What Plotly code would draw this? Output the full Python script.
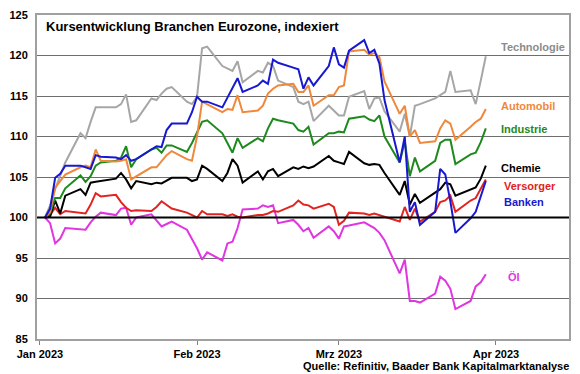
import pandas as pd
import plotly.graph_objects as go

# ---------------- data ----------------
dates = (
    ["2023-01-%02d" % d for d in [2, 3, 4, 5, 6, 9, 10, 11, 12, 13, 16, 17, 18, 19, 20, 23, 24, 25, 26, 27, 30, 31]]
    + ["2023-02-%02d" % d for d in [1, 2, 3, 6, 7, 8, 9, 10, 13, 14, 15, 16, 17, 20, 21, 22, 23, 24, 27, 28]]
    + ["2023-03-%02d" % d for d in [1, 2, 3, 6, 7, 8, 9, 10, 13, 14, 15, 16, 17, 20, 21, 22, 23, 24, 27, 28, 29, 30]]
)

technologie = [
    100, 101.5, 103.5, 105.2, 106.8, 110.4, 109.8, 111.8, 113.6, 113.6, 113.6, 114.0, 115.2, 111.8, 112.0, 114.7, 114.5, 115.3, 115.9, 116.1, 114.3, 114.0,
    114.9, 120.9, 121.1, 118.7, 118.4, 118.1, 119.3, 116.7, 118.1, 117.9, 119.1, 118.7, 116.9, 116.1, 114.3, 114.0, 114.3, 111.9, 113.8, 113.2,
    112.6, 112.6, 114.9, 115.6, 113.4, 114.7, 114.8, 113.1, 110.6, 112.8, 110.0, 113.8, 114.0, 114.7, 115.1, 115.5, 118.1, 115.5, 115.7, 114.0, 116.9, 119.9,
]
automobil = [
    100, 100.7, 103.7, 104.5, 105.3, 106.2, 106.4, 106.2, 108.4, 107.0, 106.9, 107.0, 107.2, 104.7, 105.1, 106.2, 106.2, 107.0, 107.7, 108.2, 107.2, 107.0,
    110.0, 114.3, 114.0, 113.0, 113.4, 113.3, 115.1, 113.0, 113.2, 113.8, 115.3, 115.9, 116.3, 116.5, 115.5, 115.5, 116.3, 113.8, 115.1, 115.1,
    116.1, 116.3, 120.5, 120.7, 120.1, 120.3, 119.8, 116.8, 112.8, 113.8, 110.0, 110.8, 109.2, 109.4, 111.0, 112.0, 111.6, 109.6, 111.2, 111.8, 112.2, 113.4,
]
industrie = [
    100, 100.5, 102.4, 102.4, 103.6, 105.2, 104.4, 105.1, 106.4, 106.8, 107.0, 107.4, 108.8, 106.2, 107.2, 108.4, 108.6, 108.0, 108.9, 108.9, 108.1, 109.2,
    110.5, 111.8, 112.0, 110.4, 109.2, 108.0, 109.8, 108.6, 109.8, 109.4, 111.0, 112.2, 112.0, 111.6, 110.8, 110.6, 111.2, 109.0, 110.4, 110.4,
    110.6, 110.5, 112.2, 112.5, 112.1, 111.9, 112.6, 110.0, 106.8, 109.4, 105.1, 107.4, 105.7, 107.0, 109.2, 109.6, 109.6, 106.6, 107.8, 108.0, 109.3, 111.0,
]
chemie = [
    100, 100.1, 102.1, 100.5, 102.7, 103.5, 102.8, 104.3, 104.4, 104.5, 104.8, 105.5, 104.7, 103.6, 104.5, 104.1, 104.3, 104.2, 104.5, 104.9, 104.9, 104.5,
    104.7, 106.4, 106.0, 104.5, 105.5, 107.2, 106.4, 104.3, 105.7, 104.7, 105.7, 106.0, 105.1, 106.2, 106.0, 106.3, 106.1, 106.3, 107.6, 107.0,
    106.8, 106.6, 108.1, 106.7, 106.5, 106.6, 106.5, 105.5, 102.8, 104.5, 101.6, 102.9, 101.8, 103.1, 103.5, 104.3, 104.1, 102.7, 103.5, 103.7, 104.8, 106.4,
]
versorger = [
    100, 100.3, 101.2, 100.4, 100.8, 100.6, 100.5, 101.6, 103.0, 102.6, 102.8, 101.9, 101.2, 100.8, 100.9, 100.8, 101.3, 102.0, 101.5, 101.1, 100.6, 100.3,
    100.0, 100.8, 100.4, 100.4, 100.2, 100.4, 100.1, 100.0, 100.3, 100.3, 100.5, 100.8, 100.7, 101.5, 102.1, 101.6, 101.5, 101.1, 101.7, 101.3,
    99.1, 99.6, 100.6, 100.5, 100.3, 100.5, 100.3, 100.1, 99.5, 101.3, 99.7, 101.1, 99.5, 100.7, 101.9, 102.1, 102.7, 100.7, 102.1, 102.4, 103.5, 104.7,
]
banken = [
    100, 101.1, 104.9, 105.4, 106.4, 106.4, 106.2, 106.0, 107.7, 107.5, 107.4, 107.2, 107.7, 107.0, 107.2, 108.4, 108.8, 108.7, 110.8, 111.6, 111.6, 113.0,
    114.9, 114.3, 114.3, 113.6, 114.8, 116.0, 117.2, 115.5, 116.3, 116.9, 116.5, 119.5, 119.1, 118.5, 118.3, 115.9, 117.3, 116.3, 118.7, 121.0,
    118.9, 118.5, 120.6, 121.9, 120.3, 120.7, 119.0, 114.5, 106.8, 110.0, 100.7, 101.9, 99.1, 100.7, 106.0, 105.3, 102.0, 98.1, 99.9, 100.7, 102.5, 104.5,
]
oel = [
    100, 99.3, 96.8, 97.4, 98.7, 98.6, 98.5, 99.4, 100.1, 100.6, 100.3, 101.1, 101.2, 99.1, 100.0, 100.4, 99.7, 98.9, 99.2, 99.5, 98.5, 97.4,
    96.2, 94.8, 95.7, 94.7, 96.8, 97.0, 98.7, 101.0, 101.1, 101.5, 101.3, 101.5, 99.3, 99.7, 99.1, 98.3, 98.7, 97.5, 98.9, 98.3,
    97.4, 98.9, 99.0, 99.4, 99.1, 98.7, 98.1, 97.2, 93.1, 94.8, 89.7, 89.7, 89.5, 90.6, 92.7, 92.2, 91.2, 88.7, 89.7, 91.5, 92.0, 93.0,
]

series_names = ["Technologie", "Automobil", "Industrie", "Chemie", "Versorger", "Banken", "Öl"]
label_values = [121.0, 113.8, 110.9, 106.1, 103.85, 101.9, 92.7]

tick_dates = ["2023-01-01", "2023-02-01", "2023-03-01", "2023-04-01"]
tick_labels = ["Jan 2023", "Feb 2023", "Mrz 2023", "Apr 2023"]
y_ticks = [85, 90, 95, 100, 105, 110, 115, 120, 125]
baseline = 100

title_text = "Kursentwicklung Branchen Eurozone, indexiert"
source_text = "Quelle: Refinitiv, Baader Bank Kapitalmarktanalyse"

# ---------------- styling ----------------
FONT = "Arial, 'Liberation Sans', sans-serif"
line_colors = ["#A6A6A6", "#F0883C", "#1E8A1E", "#000000", "#E32222", "#1818D0", "#E035E0"]
text_colors = ["#8C8C8C", "#F0883C", "#1E8A1E", "#000000", "#E32222", "#1818D0", "#E035E0"]
label_x = [0.8685, 0.8685, 0.8685, 0.8685, 0.874, 0.874, 0.881]

df = pd.DataFrame({
    "date": pd.to_datetime(dates),
    "Technologie": technologie,
    "Automobil": automobil,
    "Industrie": industrie,
    "Chemie": chemie,
    "Versorger": versorger,
    "Banken": banken,
    "Öl": oel,
})

fig = go.Figure()

draw_order = ["Öl", "Versorger", "Chemie", "Technologie", "Industrie", "Automobil", "Banken"]
for name in draw_order:
    i = series_names.index(name)
    fig.add_trace(go.Scatter(
        x=df["date"], y=df[name], mode="lines", name=name,
        line=dict(color=line_colors[i], width=2),
        hoverinfo="x+y+name", showlegend=False,
    ))

fig.add_shape(type="line", xref="paper", x0=0, x1=1, yref="y", y0=baseline, y1=baseline,
              line=dict(color="black", width=2), layer="above")

for i, name in enumerate(series_names):
    fig.add_annotation(
        x=label_x[i], xref="paper", y=label_values[i], yref="y",
        text="<b>%s</b>" % name, showarrow=False, xanchor="left", yanchor="middle",
        font=dict(family=FONT, size=11, color=text_colors[i]),
    )

fig.add_annotation(x=0.013, xref="paper", y=0.9635, yref="paper", text="<b>%s</b>" % title_text,
                   showarrow=False, xanchor="left", yanchor="middle",
                   font=dict(family=FONT, size=13, color="black"))
fig.add_annotation(x=1.0045, xref="paper", y=-0.082, yref="paper", text="<b>%s</b>" % source_text,
                   showarrow=False, xanchor="right", yanchor="middle",
                   font=dict(family=FONT, size=11, color="black"))

fig.update_layout(
    width=580, height=374,
    margin=dict(l=33, r=9, t=10, b=35),
    paper_bgcolor="white", plot_bgcolor="white",
    font=dict(family=FONT, size=11, color="black"),
    showlegend=False,
    xaxis=dict(
        type="date", range=["2022-12-31 10:00", "2023-04-15 10:00"],
        tickvals=tick_dates, ticktext=["<b>%s</b>" % t for t in tick_labels],
        showgrid=False, ticks="outside", ticklen=4, tickcolor="#808080",
        showline=True, linecolor="#A0A0A0", linewidth=1.5, mirror=True,
        tickfont=dict(family=FONT, size=11, color="black"),
    ),
    yaxis=dict(
        range=[85, 125], tickvals=y_ticks, ticktext=["<b>%d</b>" % v for v in y_ticks],
        showgrid=True, gridcolor="#6E6E6E", gridwidth=1,
        ticks="", showline=True, linecolor="#A0A0A0", linewidth=2, mirror=True,
        zeroline=False, ticklabelstandoff=5,
        tickfont=dict(family=FONT, size=11, color="black"),
    ),
)

fig.write_html(
    "out.html",
    config={"displayModeBar": False},
    post_script="document.body.style.margin='0';document.body.style.padding='0';document.body.style.overflow='hidden';",
)
